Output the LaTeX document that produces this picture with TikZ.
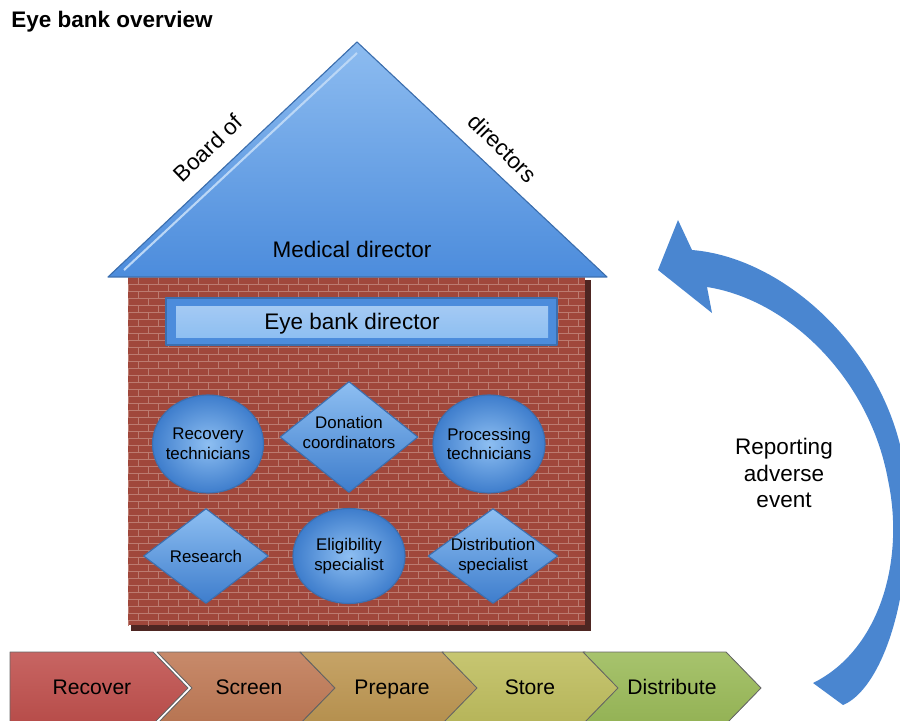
\documentclass[tikz,border=0pt]{standalone}
\usepackage{fontspec}
\setmainfont{Liberation Sans}
\usetikzlibrary{shapes.geometric}
\definecolor{brick}{HTML}{A0473B}
\definecolor{mortar}{HTML}{BC7B70}
\definecolor{wallshadow}{HTML}{4E2622}
\definecolor{rooflight}{HTML}{8DBCF0}
\definecolor{roofdark}{HTML}{4C8CDC}
\definecolor{edgeblue}{HTML}{3C6FAF}
\definecolor{orblight}{HTML}{8EBFF2}
\definecolor{orbdark}{HTML}{3E7DCC}
\definecolor{arrowblue}{HTML}{4A86D0}
\definecolor{stagea}{HTML}{C0504D}
\definecolor{stageb}{HTML}{C07A56}
\definecolor{stagec}{HTML}{BE9752}
\definecolor{staged}{HTML}{BFBE5E}
\definecolor{stagee}{HTML}{9BBB59}
\tikzset{
  orb/.style={ellipse, draw=edgeblue, line width=0.8pt, inner color=orblight, outer color=orbdark, inner sep=0pt},
  gem/.style={diamond, draw=edgeblue, line width=0.8pt, top color=orblight, bottom color=orbdark, inner sep=0pt},
  lbl/.style={align=center, font=\fontsize{12}{14}\selectfont},
  big/.style={font=\fontsize{16}{19}\selectfont},
  stage/.style={anchor=base, font=\fontsize{15}{18}\selectfont}
}
\begin{document}
\begin{tikzpicture}[x=0.025cm, y=-0.025cm, line join=round]
\useasboundingbox (0,0) rectangle (900,721);
\node[anchor=west, inner sep=0pt, font=\bfseries\fontsize{16}{19}\selectfont] (title) at (11,22) {Eye bank overview};
% wall
\fill[wallshadow] (131,280) rectangle (591,631);
\begin{scope}
\clip (128,277) rectangle (585,625);
\fill[brick] (128,277) rectangle (585,625);
\foreach \r in {0,...,50} {
  \draw[mortar, line width=0.5pt] (128,277+7*\r) -- (585,277+7*\r);
  \pgfmathsetmacro\off{mod(\r,2)*10}
  \foreach \c in {0,...,24} \draw[mortar, line width=0.5pt] (118+\off+20*\c,277+7*\r) -- ++(0,7);
}
\end{scope}
% roof
\filldraw[top color=rooflight, bottom color=roofdark, draw=edgeblue, line width=0.8pt] (108,277) -- (357,42) -- (607,277) -- cycle;
\draw[rooflight!60!white, line width=1.5pt] (124,270) -- (357,53);
\node[big, rotate=44] (board) at (208,148) {Board of};
\node[big, rotate=-45] (dirs) at (503,148) {directors};
\node[big] (med) at (352,249) {Medical director};
% eye bank director
\node[draw=edgeblue, fill=roofdark, line width=0.8pt, minimum width=9.775cm, minimum height=1.175cm, inner sep=0pt] (ebdbox) at (361.5,321.5) {};
\shade[top color=rooflight!80!white, bottom color=orblight] (176,306) rectangle (548,337);
\node[big] (ebd) at (352,324) {Eye bank director};
% staff
\node[orb, minimum width=2.775cm, minimum height=2.45cm] (rt) at (208,444) {};
\node[lbl] at (rt) {Recovery\\technicians};
\node[gem, minimum width=3.45cm, minimum height=2.775cm] (dc) at (349,437) {};
\node[lbl] at ([yshift=3pt]dc) {Donation\\coordinators};
\node[orb, minimum width=2.8cm, minimum height=2.45cm] (pt) at (489,444) {};
\node[lbl] at (pt) {Processing\\technicians};
\node[gem, minimum width=3.125cm, minimum height=2.375cm] (rs) at (206,556) {};
\node[lbl] at (rs) {Research};
\node[orb, minimum width=2.8cm, minimum height=2.375cm] (es) at (349,556) {};
\node[lbl] at (es) {Eligibility\\specialist};
\node[gem, minimum width=3.25cm, minimum height=2.375cm] (ds) at (493,556) {};
\node[lbl] at (ds) {Distribution\\specialist};
% stages
\foreach \n/\l/\tx/\c/\t [count=\i] in {rec/10/92/stagea/Recover, scr/157/249/stageb/Screen, prp/300/392/stagec/Prepare, sto/442/530/staged/Store, dst/583/672/stagee/Distribute} {
  \pgfmathsetmacro\d{\i==1 ? 0 : 35}
  \filldraw[draw=black!60, line width=0.6pt, top color=\c!88!white, bottom color=\c!95!black] (\l,652) -- (\l+143,652) -- (\l+178,688) -- (\l+143,724) -- (\l,724) -- (\l+\d,688) -- cycle;
  \node[stage] (\n) at (\tx,694) {\t};
}
% feedback arrow
\fill[arrowblue] (813,683) .. controls (880,650) and (905,560) .. (888,480) .. controls (870,380) and (790,300) .. (707,287)
  -- (712,313) -- (658,270) -- (678,220) -- (692,250)
  .. controls (790,258) and (895,360) .. (906,480) .. controls (915,600) and (880,690) .. (843,705) -- cycle;
\node[big, align=center] (rae) at (784,473) {Reporting\\adverse\\event};
\end{tikzpicture}
\end{document}
